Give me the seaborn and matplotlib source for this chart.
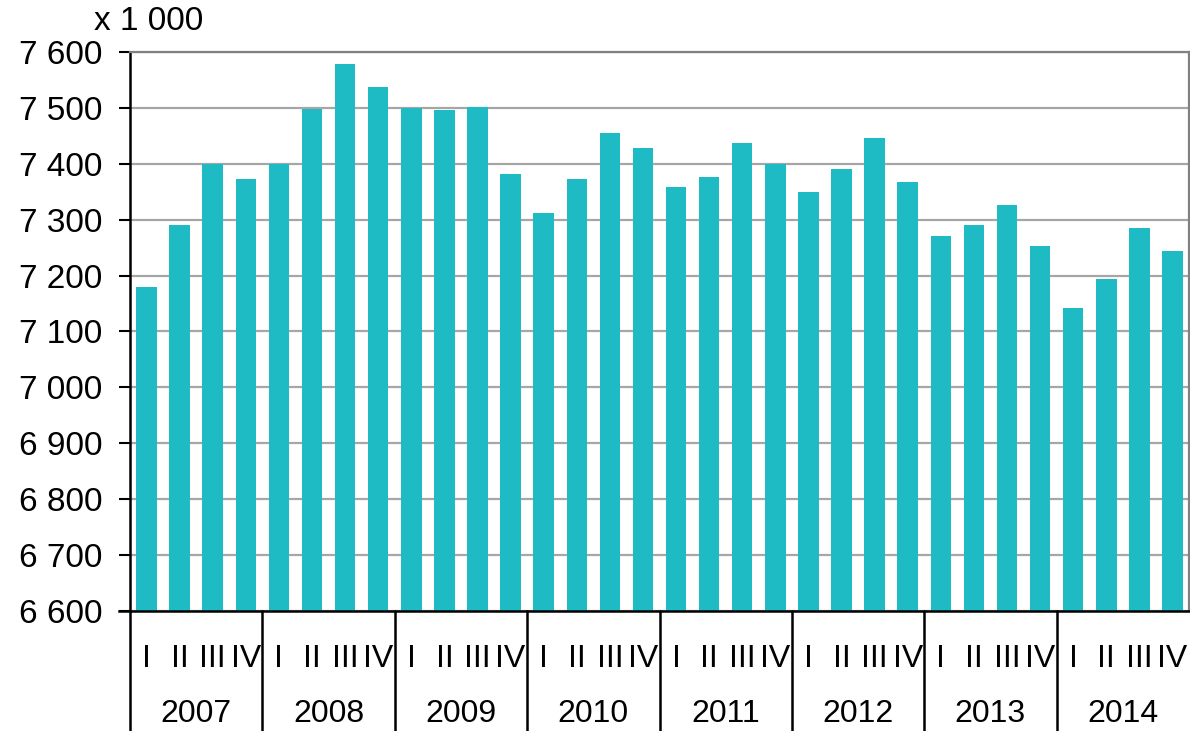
import matplotlib
matplotlib.use("Agg")
import matplotlib.pyplot as plt
import seaborn as sns
import pandas as pd
from matplotlib.lines import Line2D

years = ["2007", "2008", "2009", "2010", "2011", "2012", "2013", "2014"]
quarters = ["I", "II", "III", "IV"]
values = [
    7180, 7291, 7400, 7373,
    7400, 7498, 7579, 7537,
    7500, 7496, 7502, 7382,
    7312, 7373, 7455, 7428,
    7358, 7376, 7437, 7400,
    7350, 7391, 7446, 7367,
    7271, 7290, 7326, 7253,
    7142, 7194, 7285, 7244,
]
y_ticks = [6600, 6700, 6800, 6900, 7000, 7100, 7200, 7300, 7400, 7500, 7600]
unit_label = "x 1 000"

sns.set_theme(style="white")
plt.rcParams["font.family"] = ["Liberation Sans", "DejaVu Sans"]

labels = [f"{y} {q}" for y in years for q in quarters]
df = pd.DataFrame({"period": labels, "value": values})

W, H = 1190, 731
fig = plt.figure(figsize=(W / 100, H / 100), dpi=100)
ax = fig.add_axes([130 / W, 1 - 611 / H, (1189 - 130) / W, (611 - 52) / H])

sns.barplot(data=df, x="period", y="value", color="#1EBBC5", saturation=1,
            width=0.62, ax=ax, order=labels, linewidth=0, edgecolor="none")

ax.set_xlim(-0.5, len(labels) - 0.5)
ax.set_ylim(6600, 7600)
ax.set_axisbelow(True)
ax.yaxis.grid(True, color="#a6a6a6", linewidth=1.6)
ax.xaxis.grid(False)
ax.set_yticks(y_ticks)
ax.set_yticklabels([f"{v:,}".replace(",", " ") for v in y_ticks])
ax.tick_params(axis="y", left=True, length=8, width=1.5, color="black",
               labelsize=24, pad=12, labelcolor="black")
ax.set_xticks(range(len(labels)))
ax.set_xticklabels(quarters * len(years))
ax.tick_params(axis="x", bottom=False, length=0, labelsize=23, pad=24,
               labelcolor="black")
ax.set_xlabel("")
ax.set_ylabel("")

for side in ["top", "right"]:
    ax.spines[side].set_visible(True)
    ax.spines[side].set_color("#808080")
    ax.spines[side].set_linewidth(1.6)
ax.spines["left"].set_color("black")
ax.spines["left"].set_linewidth(1.8)
ax.spines["bottom"].set_color("black")
ax.spines["bottom"].set_linewidth(1.8)
ax.spines["bottom"].set_bounds(-0.5 - 11 / 33.1, len(labels) - 0.5)

xt = ax.get_xaxis_transform()
for i in range(len(years)):
    xpos = i * 4 - 0.5
    ax.add_line(Line2D([xpos, xpos], [0, -120 / 559], transform=xt,
                       color="black", linewidth=1.8, clip_on=False))
for i, yr in enumerate(years):
    ax.text(i * 4 + 1.5, -103 / 559, yr, transform=xt, ha="center",
            va="center", fontsize=23, color="black")

fig.text(149 / W, 1 - 22 / H, unit_label, ha="center", va="center",
         fontsize=24, color="black")

fig.savefig("out.png", dpi=100, facecolor="white")
